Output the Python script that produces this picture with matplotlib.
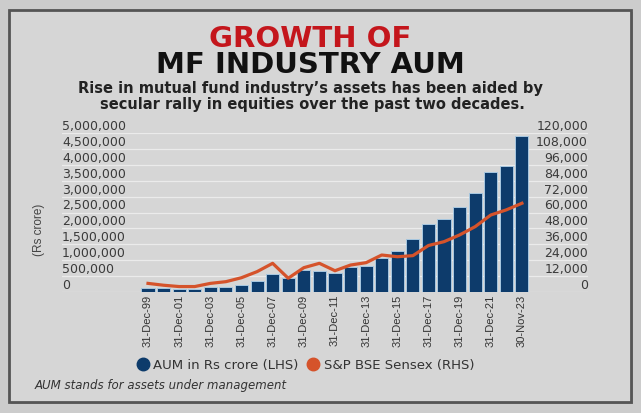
import matplotlib.pyplot as plt
from matplotlib.patches import Rectangle
from matplotlib.lines import Line2D

# year-end dates (last one is end of Nov 2023)
periods = ['31-Dec-99', '31-Dec-00', '31-Dec-01', '31-Dec-02', '31-Dec-03',
           '31-Dec-04', '31-Dec-05', '31-Dec-06', '31-Dec-07', '31-Dec-08',
           '31-Dec-09', '31-Dec-10', '31-Dec-11', '31-Dec-12', '31-Dec-13',
           '31-Dec-14', '31-Dec-15', '31-Dec-16', '31-Dec-17', '31-Dec-18',
           '31-Dec-19', '31-Dec-20', '31-Dec-21', '31-Dec-22', '30-Nov-23']
# AUM in Rs crore (LHS)
aum = [107000, 103000, 95000, 100000, 139000, 158000, 211000, 338000, 569000,
       442000, 685000, 640000, 600000, 770000, 821000, 1060000, 1270000,
       1653000, 2140000, 2290000, 2665000, 3107000, 3780000, 3980000, 4917000]
# S&P BSE Sensex (RHS)
sensex = [6300, 4900, 3900, 3900, 6300, 7600, 10600, 15200, 21500, 10200,
          18200, 21500, 15900, 20200, 22000, 27800, 26500, 27300, 35000,
          37900, 43000, 49300, 58100, 62000, 67000]

lhs_ticks = list(range(0, 5000001, 500000))
rhs_ticks = list(range(0, 120001, 12000))

navy = '#0d3b6b'
orange = '#d5532b'
txt = '#333333'
narrow = ['Liberation Sans', 'DejaVu Sans']

fig = plt.figure(figsize=(6.41, 4.13), dpi=100, facecolor='#cccccc')

# card with border (drawn behind everything)
fig.patches.append(Rectangle((11 / 641, 1 - 404 / 413), 622 / 641, 392 / 413,
                             transform=fig.transFigure, facecolor='#9c9c9c',
                             edgecolor='none', zorder=-10))
fig.patches.append(Rectangle((9 / 641, 1 - 402 / 413), 622 / 641, 392 / 413,
                             transform=fig.transFigure, facecolor='#d6d6d6',
                             edgecolor='#555555', linewidth=2, zorder=-9))

ax = fig.add_axes([62 / 641, 1 - 291.7 / 413, 526 / 641, 158.4 / 413])
ax.set_zorder(1)
ax.set_facecolor('none')
x = list(range(len(periods)))
ax.bar(x, aum, width=0.84, color=navy, edgecolor='#a7c7e0', linewidth=0.7, zorder=2)
ax.set_xlim(-5.52, 28.24)
ax.set_ylim(0, 5000000)
ax.set_yticks(lhs_ticks)
ax.set_yticklabels([f'{v:,}' for v in lhs_ticks])
ax.tick_params(axis='y', length=0, pad=0, labelsize=9, labelcolor='#3a3a3a')
for lab in ax.get_yticklabels():
    lab.set_ha('left')
    lab.set_va('bottom')
ax.yaxis.grid(True, color='#ebebeb', linewidth=0.9)
ax.set_axisbelow(True)
ax.set_xticks(x[::2])
ax.set_xticklabels(periods[::2], rotation=90, fontsize=8, color=txt, family=narrow)
ax.tick_params(axis='x', length=0, pad=2)
for s in ax.spines.values():
    s.set_visible(False)

ax2 = ax.twinx()
ax2.set_zorder(2)
ax2.set_facecolor('none')
ax2.plot(x, sensex, color=orange, linewidth=2.3, zorder=3)
ax2.set_ylim(0, 120000)
ax2.set_yticks(rhs_ticks)
ax2.set_yticklabels([f'{v:,}' for v in rhs_ticks])
ax2.tick_params(axis='y', length=0, pad=0, labelsize=9, labelcolor='#3a3a3a')
for lab in ax2.get_yticklabels():
    lab.set_ha('right')
    lab.set_va('bottom')
for s in ax2.spines.values():
    s.set_visible(False)

fig.text(39 / 641, 1 - 230 / 413, '(Rs crore)', rotation=90, ha='center', va='center',
         fontsize=8.5, color='#444444', family=narrow)

# titles
fig.text(310 / 641, 1 - 39 / 413, 'GROWTH OF', ha='center', va='center',
         fontsize=21, fontweight='bold', color='#c4161c')
fig.text(310 / 641, 1 - 65 / 413, 'MF INDUSTRY AUM', ha='center', va='center',
         fontsize=21, fontweight='bold', color='#111111')
fig.text(310 / 641, 1 - 89 / 413, 'Rise in mutual fund industry’s assets has been aided by',
         ha='center', va='center', fontsize=10.5, fontweight='bold', color='#222222')
fig.text(312 / 641, 1 - 104 / 413, 'secular rally in equities over the past two decades.',
         ha='center', va='center', fontsize=10.5, fontweight='bold', color='#222222')

handles = [Line2D([], [], marker='o', linestyle='none', markersize=9, color=navy),
           Line2D([], [], marker='o', linestyle='none', markersize=9, color=orange)]
fig.legend(handles, ['AUM in Rs crore (LHS)', 'S&P BSE Sensex (RHS)'],
           loc='center', bbox_to_anchor=(305 / 641, 1 - 365 / 413), ncol=2,
           frameon=False, fontsize=9.5, labelcolor=txt, handletextpad=0.3,
           columnspacing=0.6, handlelength=1)

fig.text(35 / 641, 1 - 386 / 413, 'AUM stands for assets under management',
         ha='left', va='center', fontsize=8.5, style='italic', color=txt)

fig.savefig('out.png', dpi=100, facecolor=fig.get_facecolor())
